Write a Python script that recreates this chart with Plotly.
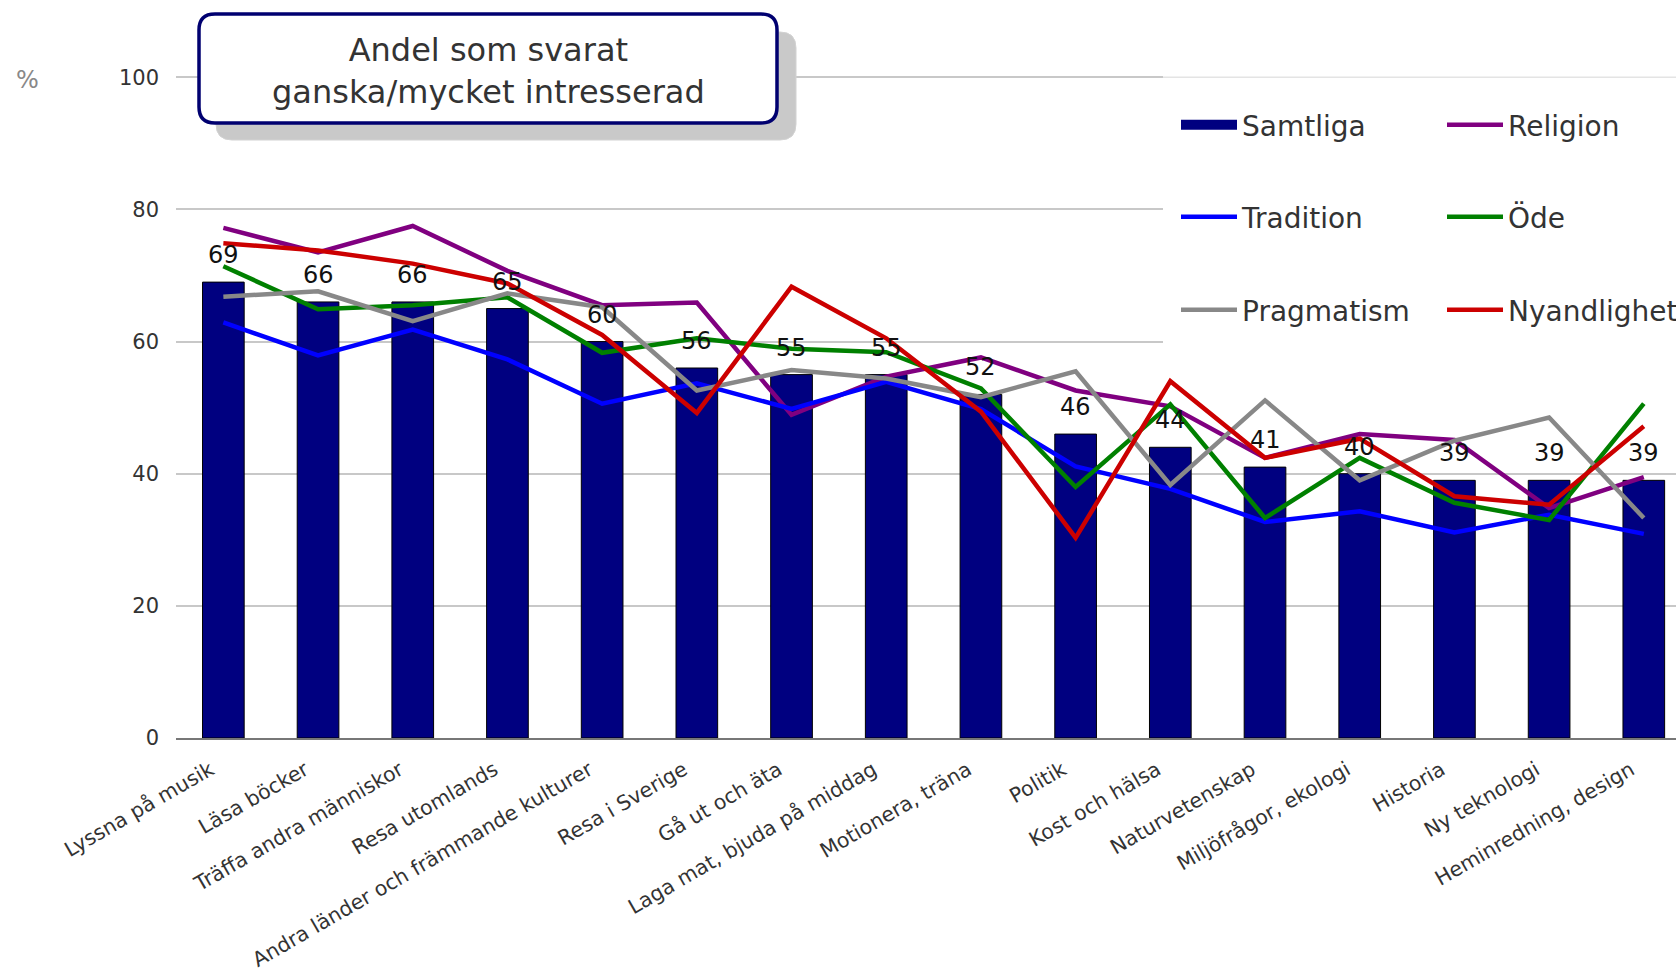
import plotly.graph_objects as go

# Intresseområden (x-axel)
categories = [
    "Lyssna på musik", "Läsa böcker", "Träffa andra människor", "Resa utomlands",
    "Andra länder och främmande kulturer", "Resa i Sverige", "Gå ut och äta",
    "Laga mat, bjuda på middag", "Motionera, träna", "Politik", "Kost och hälsa",
    "Naturvetenskap", "Miljöfrågor, ekologi", "Historia", "Ny teknologi",
    "Heminredning, design",
]

# Andel (%) som svarat ganska/mycket intresserad
samtliga = [69, 66, 66, 65, 60, 56, 55, 55, 52, 46, 44, 41, 40, 39, 39, 39]
religion = [77.2, 73.5, 77.5, 70.7, 65.5, 65.9, 48.9, 54.7, 57.6, 52.6, 50.2, 42.4, 46.0, 45.1, 34.8, 39.5]
tradition = [62.9, 57.9, 61.8, 57.3, 50.6, 53.7, 49.8, 53.9, 49.8, 41.1, 37.7, 32.7, 34.3, 31.1, 33.8, 30.9]
ode = [71.4, 64.9, 65.5, 66.7, 58.3, 60.5, 58.9, 58.4, 52.9, 38.0, 50.5, 33.3, 42.4, 35.6, 33.0, 50.6]
pragmatism = [66.8, 67.6, 63.1, 67.3, 65.2, 52.6, 55.7, 54.4, 51.6, 55.5, 38.3, 51.1, 39.0, 45.0, 48.5, 33.3]
nyandlighet = [74.9, 73.8, 71.8, 68.8, 61.0, 49.2, 68.3, 60.5, 49.4, 30.3, 54.0, 42.4, 45.3, 36.6, 35.3, 47.2]

y_ticks = [0, 20, 40, 60, 80, 100]
title_lines = ["Andel som svarat", "ganska/mycket intresserad"]

FONT = "DejaVu Sans, Verdana, sans-serif"
W, H = 1676, 975
PL, PT, PW, PH = 176, 74, 1500, 664
Y_MAX = 100.5


def px(x):
    return (x - PL) / PW


def py(y):
    return (PT + PH - y) / PH


def rounded_rect(x0, y0, x1, y1, r):
    """SVG path (paper coords) for a rounded rectangle given in pixels."""
    rx, ry = r / PW, r / PH
    a, b, c, d = px(x0), px(x1), py(y0), py(y1)  # c = top, d = bottom
    return (
        f"M{a + rx},{c} L{b - rx},{c} Q{b},{c} {b},{c - ry} "
        f"L{b},{d + ry} Q{b},{d} {b - rx},{d} "
        f"L{a + rx},{d} Q{a},{d} {a},{d + ry} "
        f"L{a},{c - ry} Q{a},{c} {a + rx},{c} Z"
    )


xs = list(range(len(categories)))

fig = go.Figure()

fig.add_trace(go.Bar(
    x=xs, y=samtliga, name="Samtliga",
    marker=dict(color="#000080", line=dict(color="#000000", width=1)),
    showlegend=False,
))
# legend entry for the bars, drawn as a wide block
fig.add_trace(go.Scatter(
    x=[None], y=[None], name="Samtliga", mode="lines",
    line=dict(color="#000080", width=15), legend="legend",
))

line_series = [
    ("Religion", religion, "#800080", "legend"),
    ("Tradition", tradition, "#0000FF", "legend2"),
    ("Öde", ode, "#008000", "legend2"),
    ("Pragmatism", pragmatism, "#888888", "legend3"),
    ("Nyandlighet", nyandlighet, "#CC0000", "legend3"),
]
for name, vals, color, leg in line_series:
    fig.add_trace(go.Scatter(
        x=xs, y=vals, name=name, mode="lines",
        line=dict(color=color, width=4.5),
        legend=leg,
    ))

# Värdeetiketter ovanför staplarna
annotations = [
    dict(x=i, y=v, xref="x", yref="y", text=str(v), showarrow=False,
         yanchor="bottom", yshift=11, font=dict(family=FONT, size=24, color="#111111"))
    for i, v in zip(xs, samtliga)
]

# Rubrikruta
annotations.append(dict(
    x=px(488), y=py(71), xref="paper", yref="paper",
    text="<br>".join(title_lines), showarrow=False,
    xanchor="center", yanchor="middle",
    font=dict(family=FONT, size=32, color="#333333"),
))

# Procent-etikett vid y-axeln
annotations.append(dict(
    x=px(27), y=py(80), xref="paper", yref="paper", text="%", showarrow=False,
    xanchor="center", yanchor="middle",
    font=dict(family=FONT, size=24, color="#888888"),
))

shapes = [
    # vit bakgrund bakom legenden
    dict(type="rect", xref="paper", yref="paper",
         x0=px(1163), x1=1.0, y0=py(356), y1=py(68),
         fillcolor="white", line=dict(width=0), layer="above"),
    dict(type="line", xref="paper", yref="y",
         x0=px(1163), x1=1.0, y0=100, y1=100,
         line=dict(color="#e4e4e4", width=1.5), layer="above"),
    # skugga bakom rubrikrutan
    dict(type="path", xref="paper", yref="paper",
         path=rounded_rect(216, 32, 796, 140, 16),
         fillcolor="#c9c9c9", line=dict(color="#d2d2d2", width=1), layer="above"),
    # rubrikruta
    dict(type="path", xref="paper", yref="paper",
         path=rounded_rect(199, 14, 777, 123, 16),
         fillcolor="white", line=dict(color="#000070", width=3.5), layer="above"),
]

legend_common = dict(
    orientation="h", xanchor="left", yanchor="middle",
    bgcolor="rgba(0,0,0,0)", itemwidth=56, entrywidth=195, entrywidthmode="pixels",
    font=dict(family=FONT, size=28, color="#333333"),
    traceorder="normal",
)

fig.update_layout(
    width=W, height=H,
    margin=dict(l=PL, r=0, t=PT, b=H - PT - PH, pad=0, autoexpand=False),
    paper_bgcolor="white", plot_bgcolor="white",
    showlegend=True,
    bargap=0.56,
    font=dict(family=FONT, color="#333333"),
    xaxis=dict(
        tickmode="array", tickvals=xs, ticktext=categories,
        range=[-0.5, 15.34], tickangle=-30,
        tickfont=dict(family=FONT, size=20.5, color="#333333"),
        showgrid=False, showline=True, linecolor="#777777", linewidth=2,
        ticks="", zeroline=False, ticklabelstandoff=10, ticklabelshift=-13,
    ),
    yaxis=dict(
        range=[0, Y_MAX], tickvals=y_ticks,
        tickfont=dict(family=FONT, size=21, color="#333333"),
        showgrid=True, gridcolor="#c8c8c8", gridwidth=1.5,
        zeroline=False, showline=False, ticks="", ticklabelstandoff=16,
    ),
    legend=dict(**legend_common, x=px(1176), y=py(125)),
    legend2=dict(**legend_common, x=px(1176), y=py(217)),
    legend3=dict(**legend_common, x=px(1176), y=py(310)),
    annotations=annotations,
    shapes=shapes,
)

fig.write_html("out.html")
